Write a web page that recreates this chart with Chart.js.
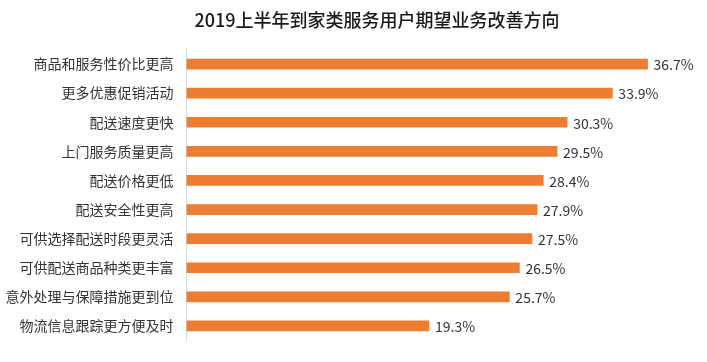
<!DOCTYPE html>
<html>
<head>
<meta charset="utf-8">
<script src="https://cdn.jsdelivr.net/npm/chart.js@4/dist/chart.umd.min.js"></script>
<style>
    html, body { margin: 0; padding: 0; background: #fff; }
    #wrap { width: 707px; height: 362px; }
</style>
</head>
<body>
<div id="wrap"><canvas id="mainChart" width="707" height="362"></canvas></div>
<script>
// Chart data
const titleText = '2019上半年到家类服务用户期望业务改善方向';
const categories = [
    '商品和服务性价比更高',
    '更多优惠促销活动',
    '配送速度更快',
    '上门服务质量更高',
    '配送价格更低',
    '配送安全性更高',
    '可供选择配送时段更灵活',
    '可供配送商品种类更丰富',
    '意外处理与保障措施更到位',
    '物流信息跟踪更方便及时'
];
const shares = [36.7, 33.9, 30.3, 29.5, 28.4, 27.9, 27.5, 26.5, 25.7, 19.3];

const fontFamily = '"Noto Sans CJK SC", "Noto Sans", sans-serif';

// Title is drawn a bit right of the canvas centre, like the original
const chartTitle = {
    id: 'chartTitle',
    afterDraw(chart) {
        const ctx = chart.ctx;
        ctx.save();
        ctx.font = '500 18px ' + fontFamily;
        ctx.fillStyle = '#1a1a1a';
        ctx.textAlign = 'center';
        ctx.textBaseline = 'middle';
        ctx.fillText(titleText, 377, 20);
        ctx.restore();
    }
};

// Value labels at the end of each bar
const valueLabels = {
    id: 'valueLabels',
    afterDatasetsDraw(chart) {
        const ctx = chart.ctx;
        const meta = chart.getDatasetMeta(0);
        ctx.save();
        ctx.font = '14px ' + fontFamily;
        ctx.fillStyle = '#333333';
        ctx.textAlign = 'left';
        ctx.textBaseline = 'middle';
        meta.data.forEach((bar, i) => {
            ctx.fillText(shares[i].toFixed(1) + '%', bar.x + 6, bar.y + 1);
        });
        ctx.restore();
    }
};

document.addEventListener('DOMContentLoaded', function() {
    new Chart(document.getElementById('mainChart'), {
        type: 'bar',
        data: {
            labels: categories,
            datasets: [{
                data: shares,
                backgroundColor: '#ED7D31',
                borderWidth: 0,
                barThickness: 10
            }]
        },
        options: {
            indexAxis: 'y',
            responsive: false,
            animation: false,
            layout: {
                padding: { left: 0, right: 18, top: 49.5, bottom: 21.5 }
            },
            plugins: {
                legend: { display: false },
                tooltip: { enabled: false },
                title: { display: false }
            },
            scales: {
                x: {
                    display: false,
                    min: 0,
                    max: 40
                },
                y: {
                    afterFit(scale) { scale.width = 186.5; },
                    grid: { display: false },
                    border: { display: true, color: '#d9d9d9', width: 1 },
                    ticks: {
                        color: '#333333',
                        padding: 5,
                        font: { family: fontFamily, size: 14 }
                    }
                }
            }
        },
        plugins: [valueLabels, chartTitle]
    });
});
</script>
</body>
</html>
